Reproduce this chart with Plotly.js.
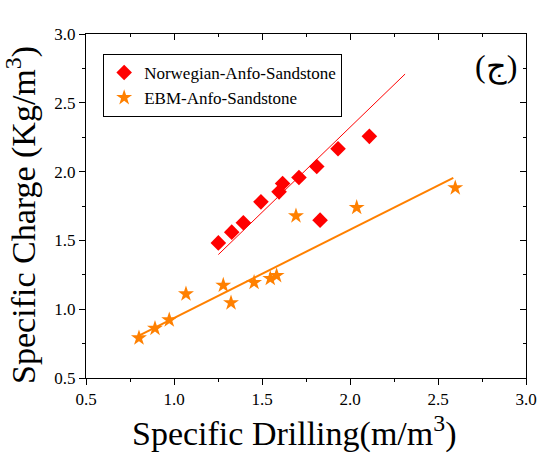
<!DOCTYPE html>
<html>
<head>
<meta charset="utf-8">
<script src="https://cdn.plot.ly/plotly-3.0.1.min.js"></script>
<style>html,body{margin:0;padding:0;background:#fff;}#chart{width:540px;height:462px;}</style>
</head>
<body>
<div id="chart"></div>
<script>
// Data
const norwegianX = [1.252, 1.328, 1.394, 1.494, 1.597, 1.617, 1.710, 1.811, 1.830, 1.932, 2.110];
const norwegianY = [1.482, 1.560, 1.628, 1.780, 1.853, 1.914, 1.957, 2.037, 1.647, 2.166, 2.256];
const norwegianFitX = [1.252, 2.313];
const norwegianFitY = [1.397, 2.709];

const ebmX = [0.801, 0.892, 0.973, 1.068, 1.280, 1.324, 1.455, 1.547, 1.583, 1.693, 2.038, 2.598];
const ebmY = [0.791, 0.861, 0.922, 1.111, 1.174, 1.046, 1.194, 1.223, 1.244, 1.678, 1.739, 1.882];
const ebmFitX = [0.801, 2.587];
const ebmFitY = [0.808, 1.955];

const tickVals = [0.5, 1.0, 1.5, 2.0, 2.5, 3.0];
const tickText = ['0.5', '1.0', '1.5', '2.0', '2.5', '3.0'];

const RED = '#ff0000';
const ORANGE = '#ff8000';
const FONT = 'Liberation Serif';

function axis(extra) {
  const a = {
    range: [0.5, 3.0],
    tickmode: 'array',
    tickvals: tickVals.slice(),
    ticktext: tickText.slice(),
    showgrid: false,
    zeroline: false,
    showline: true,
    linecolor: '#000000',
    linewidth: 1,
    tickcolor: '#000000',
    tickwidth: 1,
    tickfont: {family: FONT, size: 17, color: '#000000'},
    fixedrange: true
  };
  return Object.assign(a, extra);
}

const traces = [
  {x: norwegianFitX, y: norwegianFitY, mode: 'lines', line: {color: RED, width: 1}, showlegend: false, hoverinfo: 'skip'},
  {x: ebmFitX, y: ebmFitY, mode: 'lines', line: {color: ORANGE, width: 2}, showlegend: false, hoverinfo: 'skip'},
  {x: norwegianX, y: norwegianY, mode: 'markers', name: 'Norwegian-Anfo-Sandstone',
   marker: {symbol: 'diamond', size: 12, color: RED}},
  {x: ebmX, y: ebmY, mode: 'markers', name: 'EBM-Anfo-Sandstone',
   marker: {symbol: 'star', size: 12, color: ORANGE}},
  {x: [], y: [], xaxis: 'x2', yaxis: 'y2', showlegend: false, mode: 'markers'}
];

const layout = {
  width: 540,
  height: 462,
  margin: {l: 86, r: 14, t: 34, b: 84},
  paper_bgcolor: '#ffffff',
  plot_bgcolor: '#ffffff',
  font: {family: FONT, size: 17, color: '#000000'},
  xaxis: axis({
    ticks: 'outside', ticklen: 6, mirror: true,
    minor: {ticks: 'outside', ticklen: 3, dtick: 0.25, tick0: 0.5, tickcolor: '#000000'}
  }),
  yaxis: axis({
    ticks: 'outside', ticklen: 6, mirror: true,
    minor: {ticks: 'outside', ticklen: 3, dtick: 0.25, tick0: 0.5, tickcolor: '#000000'}
  }),
  xaxis2: axis({
    overlaying: 'x', side: 'top', ticks: 'inside', ticklen: 6, showticklabels: false,
    minor: {ticks: 'inside', ticklen: 3, dtick: 0.25, tick0: 0.5, tickcolor: '#000000'}
  }),
  yaxis2: axis({
    overlaying: 'y', side: 'right', ticks: 'inside', ticklen: 6, showticklabels: false,
    minor: {ticks: 'inside', ticklen: 3, dtick: 0.25, tick0: 0.5, tickcolor: '#000000'}
  }),
  legend: {
    x: 0.039, y: 0.942, xanchor: 'left', yanchor: 'top',
    bordercolor: '#000000', borderwidth: 1, bgcolor: '#ffffff',
    font: {family: FONT, size: 17, color: '#000000'}
  },
  annotations: [
    {text: 'Specific Drilling(m/m<sup>3</sup>)', xref: 'paper', yref: 'paper',
     x: 0.473, y: -0.155, xanchor: 'center', yanchor: 'middle', showarrow: false,
     font: {family: FONT, size: 34, color: '#000000'}},
    {text: 'Specific Charge (Kg/m<sup>3</sup>)', xref: 'paper', yref: 'paper',
     x: -0.147, y: 0.475, xanchor: 'center', yanchor: 'middle', textangle: -90, showarrow: false,
     font: {family: FONT, size: 34, color: '#000000'}},
    {text: '(ج)', xref: 'paper', yref: 'paper',
     x: 0.932, y: 0.905, xanchor: 'center', yanchor: 'middle', showarrow: false,
     font: {family: FONT, size: 32, color: '#000000'}}
  ]
};

Plotly.newPlot('chart', traces, layout, {displayModeBar: false, staticPlot: true});
</script>
</body>
</html>
